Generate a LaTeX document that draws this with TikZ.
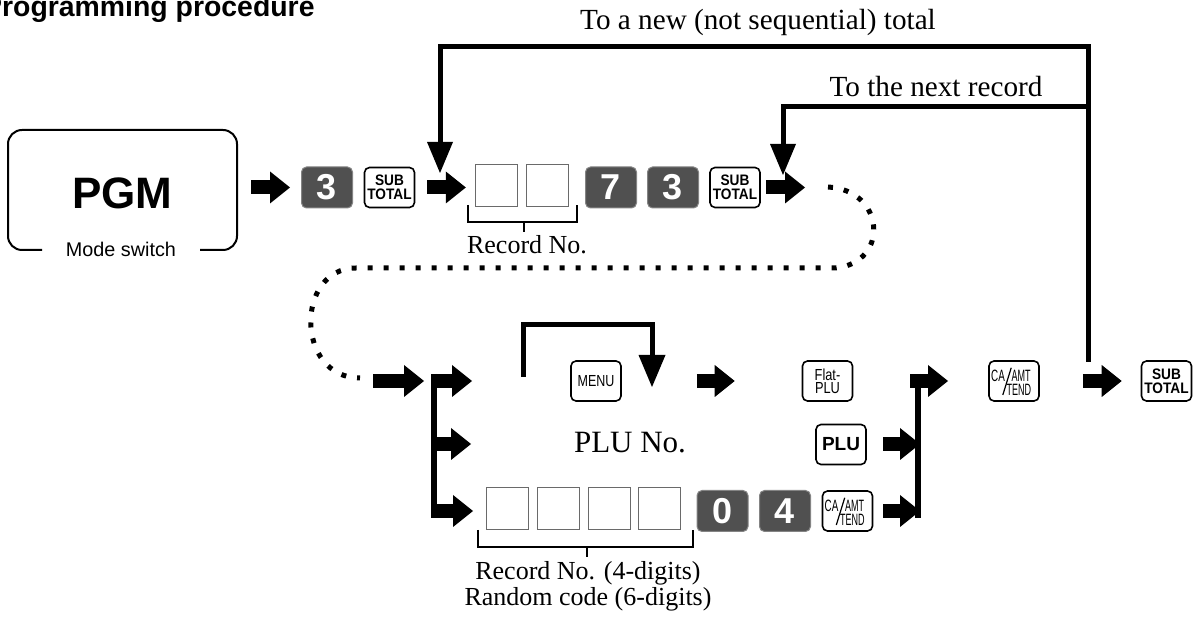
\documentclass[tikz,border=0pt]{standalone}
\usepackage{fontspec}
\setmainfont{Liberation Serif}
\setsansfont{Liberation Sans}
\usepackage{graphicx}
\usetikzlibrary{arrows.meta}
\definecolor{keydark}{HTML}{505050}
\definecolor{boxgray}{HTML}{6A6A6A}
\newcommand\nrw[2][0.8]{\scalebox{#1}[1]{#2}}
\begin{document}
\begin{tikzpicture}[x=0.5pt,y=-0.5pt,
  dkey/.style={fill=keydark, draw=keydark!70, line width=0.5pt, rounded corners=2.5pt,
    minimum width=25.5pt, minimum height=20.5pt, inner sep=0pt, text=white,
    font=\sffamily\bfseries\fontsize{18}{18}\selectfont},
  wkey/.style={draw=black, line width=0.8pt, rounded corners=2.5pt, minimum width=25pt,
    minimum height=20pt, inner sep=0pt, align=center,
    font=\sffamily\bfseries\fontsize{7.6}{7}\selectfont},
  nkey/.style={wkey, font=\sffamily\fontsize{8}{6.5}\selectfont},
  ktxt/.style={inner sep=0pt, font=\sffamily\fontsize{8.2}{7}\selectfont},
  ebox/.style={draw=boxgray, line width=0.7pt, minimum size=21pt, inner sep=0pt},
  blk/.style={line width=7pt, -{Triangle[length=10pt,width=16pt,line width=0pt]}},
  thkarr/.style={line width=2.5pt, -{Triangle[length=15.5pt,width=13pt,line width=0pt]}},
  barline/.style={line width=3pt},
  brk/.style={line width=1pt},
  lbl/.style={inner sep=0pt, font=\fontsize{13}{15}\selectfont},
  toplbl/.style={inner sep=0pt, font=\fontsize{14.6}{16}\selectfont},
  dots/.style={line width=2.5pt, dash pattern=on 2.5pt off 5.5pt},
]
\useasboundingbox (0,0) rectangle (1199,624);
\clip (0,0) rectangle (1199,624);

% title
\node[anchor=base east, inner sep=0pt, font=\sffamily\bfseries\fontsize{14.2}{16}\selectfont] (title) at (315,17) {Programming procedure};

% mode switch
\node[inner sep=0pt, font=\sffamily\bfseries\fontsize{22}{24}\selectfont] (pgmt) at (122.5,193.5) {PGM};
\node[inner sep=0pt, minimum width=114.5pt, minimum height=60pt] (pgm) at (122.5,190) {};
\draw[line width=1pt, rounded corners=7pt] (42,250) -- (8,250) -- (8,130) -- (237,130) -- (237,250) -- (200,250);
\node[inner sep=0pt, font=\sffamily\fontsize{9.9}{12}\selectfont] (ms) at (121,249) {Mode switch};

% first row keys
\node[dkey] (k3a) at (327,187.5) {3};
\node[wkey] (st1) at (389.5,187.5) {\nrw[0.9]{SUB}\\\nrw[0.9]{TOTAL}};
\node[ebox] (b1) at (496.5,185.5) {};
\node[ebox] (b2) at (547.5,185.5) {};
\node[dkey] (k7) at (611,187.5) {7};
\node[dkey] (k3b) at (673,187.5) {3};
\node[wkey] (st2) at (735,187.5) {\nrw[0.9]{SUB}\\\nrw[0.9]{TOTAL}};

\draw[brk] (468,205) -- (468,222) -- (577,222) -- (577,205);
\draw[brk] (524,222) -- (524,232);
\node[lbl] (rn1) at (527,245) {Record No.};

% block arrows row 1
\draw[blk] ([xshift=7pt]pgm.east |- k3a) -- ([xshift=-5.5pt]k3a.west);
\draw[blk] ([xshift=6pt]st1.east) -- ([xshift=-4.5pt]b1.west |- st1);
\coordinate (d0) at (828,187);
\coordinate (d1) at (360,378);
\draw[blk] ([xshift=2.5pt]st2.east) -- ([xshift=-11.5pt]d0 |- st2);

% dotted connector
\draw[dots] (d0) .. controls (885,190) and (890,262) .. (836,268) -- (356,268)
  .. controls (295,268) and (295,378) .. (d1);

% top return lines
\coordinate (jt) at (1088,362);
\coordinate (n1) at (440,173);
\coordinate (n2) at (783,175);
\node[toplbl] (tnew) at (758,22) {To a new (not sequential) total};
\node[toplbl] (tnext) at (936,87) {To the next record};
\draw[thkarr] (jt) -- (1088,47) -- (440,47) -- (n1);
\draw[thkarr] (1088,107) -- (783,107) -- (n2);

% lower block
\coordinate (jl) at (434,381);
\coordinate (jl3) at (434,511);
\coordinate (jr) at (918,381);
\coordinate (jr3) at (918,511);
\draw[blk] (373,381) -- (424,381);
\draw[barline] (434,374) -- (434,518);
\draw[blk] (431,381) -- (472,381);
\draw[blk] (431,444) -- (471,444);
\draw[blk] (431,511) -- (473,511);

% row 1 (menu)
\node[nkey] (menu) at (596,381) {\nrw[0.78]{MENU}};
\draw[line width=2.5pt, -{Triangle[length=16pt,width=13.5pt,line width=0pt]}] (523,377) -- (523,325) -- (652,325) -- (652,387);
\node[nkey] (flat) at (827.5,381) {\nrw[0.8]{Flat-}\\\nrw[0.8]{PLU}};
\draw[blk] ([xshift=37.5pt]menu.east) -- ([xshift=-33.5pt]flat.west);
\draw[barline] (918,374) -- (918,518);
\draw[blk] (910,381) -- (948,381);
\node[wkey] (ca1) at (1014,381) {};
\node[ktxt] at ([xshift=-8pt,yshift=2.8pt]ca1.center) {\nrw[0.6]{CA}};
\node[ktxt] at ([xshift=3.6pt,yshift=2.8pt]ca1.center) {\nrw[0.55]{AMT}};
\node[ktxt] at ([xshift=2.4pt,yshift=-4.6pt]ca1.center) {\nrw[0.55]{TEND}};
\draw[line width=0.6pt] ([xshift=-5.6pt,yshift=-7pt]ca1.center) -- ([xshift=-1.4pt,yshift=6.6pt]ca1.center);
\node[wkey] (st3) at (1166.5,381) {\nrw[0.9]{SUB}\\\nrw[0.9]{TOTAL}};
\draw[blk] ([xshift=21.5pt]ca1.east) -- ([xshift=-9.5pt]st3.west);

% row 2
\node[inner sep=0pt, font=\fontsize{15.5}{17}\selectfont] (pluno) at (630,443) {PLU No.};
\node[wkey, font=\sffamily\bfseries\fontsize{9.5}{10}\selectfont] (plu) at (841,444.5) {PLU};
\draw[blk] (883,444) -- (920,444);

% row 3
\node[ebox] (c1) at (507.5,508.5) {};
\node[ebox] (c2) at (558.5,508.5) {};
\node[ebox] (c3) at (609.5,508.5) {};
\node[ebox] (c4) at (659.5,508.5) {};
\node[dkey] (k0) at (722.5,511) {0};
\node[dkey] (k4) at (785,511) {4};
\node[wkey] (ca2) at (847.5,511) {};
\node[ktxt] at ([xshift=-8pt,yshift=2.8pt]ca2.center) {\nrw[0.6]{CA}};
\node[ktxt] at ([xshift=3.6pt,yshift=2.8pt]ca2.center) {\nrw[0.55]{AMT}};
\node[ktxt] at ([xshift=2.4pt,yshift=-4.6pt]ca2.center) {\nrw[0.55]{TEND}};
\draw[line width=0.6pt] ([xshift=-5.6pt,yshift=-7pt]ca2.center) -- ([xshift=-1.4pt,yshift=6.6pt]ca2.center);
\draw[blk] ([xshift=5pt]ca2.east) -- (920,511);

\draw[brk] (478,530) -- (478,547) -- (693,547) -- (693,530);
\draw[brk] (587,547) -- (587,557);
\node[lbl] (rn2) at (588,573) {Record No. (4-digits)};
\node[lbl] (rc) at (588,599) {Random code (6-digits)};
\end{tikzpicture}
\end{document}
